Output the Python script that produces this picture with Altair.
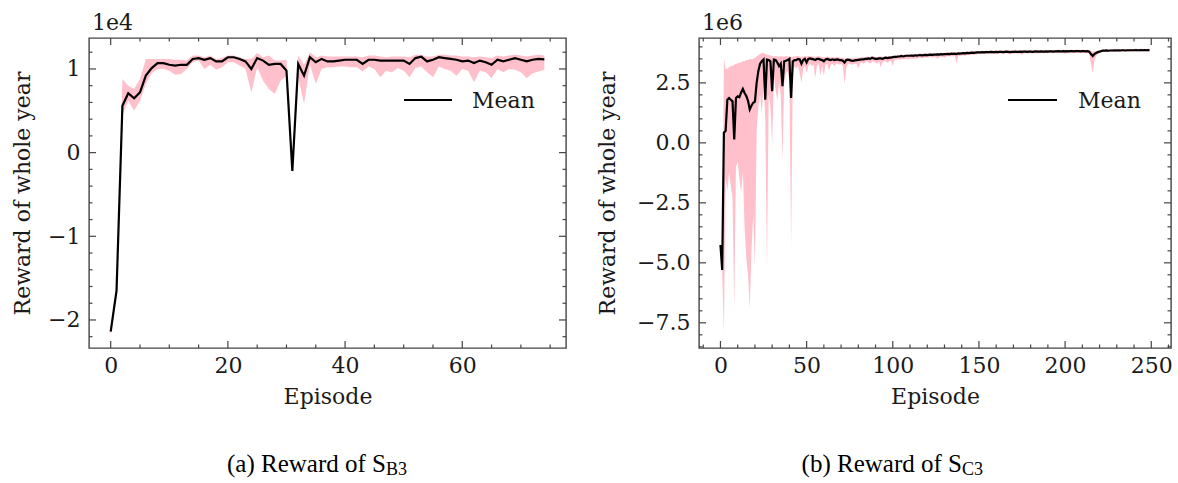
import altair as alt
import pandas as pd

# ---------------- data: panel (a)  S_B3, values in units of 1e4 ----------------
episode_b3 = list(range(75))
mean_b3 = [-2.14, -1.65, 0.56, 0.71, 0.65, 0.72, 0.92, 1.01, 1.07, 1.07,
           1.05, 1.04, 1.05, 1.05, 1.12, 1.13, 1.11, 1.13, 1.09, 1.09,
           1.14, 1.14, 1.12, 1.09, 1.00, 1.13, 1.10, 1.05, 1.06, 1.06,
           0.98, -0.22, 1.06, 0.92, 1.14, 1.08, 1.12, 1.09, 1.09, 1.10,
           1.11, 1.11, 1.11, 1.06, 1.11, 1.11, 1.10, 1.10, 1.10, 1.10,
           1.10, 1.06, 1.13, 1.146, 1.09, 1.11, 1.14, 1.13, 1.12, 1.11,
           1.09, 1.10, 1.07, 1.10, 1.08, 1.05, 1.11, 1.09, 1.11, 1.13,
           1.11, 1.09, 1.11, 1.12, 1.115]
upper_b3 = [-2.08, -1.58, 0.88, 0.80, 0.76, 0.88, 1.12, 1.12, 1.12, 1.12,
            1.12, 1.11, 1.11, 1.10, 1.16, 1.16, 1.14, 1.16, 1.12, 1.13,
            1.16, 1.16, 1.14, 1.12, 1.12, 1.19, 1.14, 1.16, 1.10, 1.10,
            1.11, -0.15, 1.16, 1.05, 1.20, 1.14, 1.16, 1.15, 1.15, 1.15,
            1.15, 1.15, 1.15, 1.14, 1.16, 1.16, 1.15, 1.14, 1.15, 1.15,
            1.15, 1.14, 1.17, 1.17, 1.15, 1.15, 1.17, 1.17, 1.16, 1.16,
            1.15, 1.15, 1.14, 1.15, 1.14, 1.13, 1.16, 1.15, 1.16, 1.17,
            1.16, 1.15, 1.16, 1.17, 1.16]
lower_b3 = [-2.20, -1.72, 0.45, 0.62, 0.50, 0.62, 0.82, 0.95, 1.00, 1.00,
            0.98, 0.93, 0.94, 1.00, 1.08, 1.10, 1.00, 1.05, 0.99, 1.02,
            1.08, 1.08, 1.04, 1.00, 0.72, 1.02, 0.86, 0.76, 0.70, 0.86,
            0.92, -0.25, 0.90, 0.58, 1.05, 0.82, 1.00, 1.02, 1.02, 1.03,
            1.03, 1.02, 1.02, 0.97, 1.03, 1.00, 0.90, 0.98, 0.96, 1.01,
            0.98, 0.90, 1.01, 1.03, 0.96, 0.90, 1.03, 1.00, 0.98, 0.92,
            1.00, 0.98, 0.84, 0.98, 0.96, 0.89, 1.00, 0.96, 1.00, 0.99,
            0.96, 0.89, 0.95, 0.97, 0.99]

# ---------------- data: panel (b)  S_C3, values in units of 1e6 ----------------
episode_c3 = list(range(250))
mean_c3 = [
    -4.25, -5.3, 0.42, 0.5, 1.8, 1.87, 1.8, 1.73, 0.14, 1.87,
    1.94, 1.9, 2.1, 2.25, 2.08, 1.95, 1.75, 1.39, 1.55, 1.67,
    1.72, 2.5, 3.0, 3.3, 3.4, 3.47, 1.8, 3.47, 3.45, 3.4,
    2.15, 3.47, 3.45, 3.35, 3.2, 3.3, 2.36, 3.4, 3.42, 3.45,
    3.5, 1.87,
    3.4, 3.45, 3.45, 3.5, 3.48, 3.3, 3.45, 3.5,
    3.35, 3.5, 3.52, 3.5, 3.48, 3.45, 3.5, 3.5, 3.47, 3.45,
    3.4, 3.48, 3.5, 3.47, 3.45, 3.48, 3.45, 3.47, 3.48, 3.45,
    3.45, 3.42, 3.35, 3.45, 3.47, 3.45, 3.43, 3.42, 3.44, 3.45,
    3.46, 3.47, 3.48, 3.48, 3.5, 3.5, 3.52, 3.5, 3.55, 3.52,
    3.5, 3.5, 3.52, 3.52, 3.5, 3.53, 3.55, 3.53, 3.55, 3.55,
    3.57, 3.58, 3.58, 3.6, 3.6, 3.62, 3.6, 3.62, 3.63, 3.63,
    3.63, 3.64, 3.63, 3.65, 3.64, 3.65, 3.66, 3.65, 3.66, 3.67,
    3.66, 3.67, 3.68, 3.67, 3.68, 3.68, 3.69, 3.68, 3.7, 3.69,
    3.7, 3.7, 3.71, 3.7, 3.72, 3.71, 3.72, 3.7, 3.73, 3.72,
    3.73, 3.74, 3.73, 3.75, 3.74, 3.75, 3.76, 3.75, 3.76, 3.77,
    3.77, 3.77, 3.78, 3.77, 3.78, 3.78, 3.78, 3.79, 3.78, 3.78,
    3.79, 3.78, 3.79, 3.79, 3.78, 3.79, 3.8, 3.79, 3.78, 3.79,
    3.79, 3.8, 3.79, 3.79, 3.8, 3.79, 3.8, 3.8, 3.79, 3.8,
    3.8, 3.79, 3.8, 3.81, 3.8, 3.8, 3.81, 3.8, 3.8, 3.81,
    3.8, 3.81, 3.81, 3.8, 3.81, 3.81, 3.82, 3.81, 3.81, 3.82,
    3.81, 3.82, 3.81, 3.82, 3.82, 3.81, 3.82, 3.82, 3.82, 3.81,
    3.82, 3.82, 3.81, 3.82, 3.8, 3.7, 3.62, 3.7, 3.75, 3.78,
    3.8, 3.83, 3.84, 3.84, 3.85, 3.84, 3.85, 3.85, 3.85, 3.86,
    3.85, 3.86, 3.85, 3.86, 3.86, 3.85, 3.86, 3.86, 3.86, 3.86,
    3.86, 3.87, 3.86, 3.86, 3.87, 3.86, 3.87, 3.86, 3.87, 3.86]
upper_c3 = [
    -4.1, -5.2, 3.55, 3.05, 3.1, 3.15, 3.2, 3.2, 3.25, 3.3,
    3.3, 3.35, 3.35, 3.4, 3.4, 3.45, 3.45, 3.5, 3.5, 3.5,
    3.55, 3.6, 3.65, 3.7, 3.75, 3.75, 3.7, 3.68, 3.65, 3.65,
    3.62, 3.6, 3.62, 3.6, 3.6, 3.62, 3.6, 3.6, 3.62, 3.6,
    3.6, 3.58,
    3.6, 3.6, 3.62, 3.62, 3.6, 3.58, 3.6, 3.62,
    3.6, 3.62, 3.62, 3.6, 3.6, 3.58, 3.6, 3.62, 3.6, 3.58,
    3.56, 3.58, 3.6, 3.58, 3.56, 3.58, 3.56, 3.57, 3.58, 3.56,
    3.55, 3.55, 3.52, 3.53, 3.55, 3.54, 3.53, 3.52, 3.54, 3.55,
    3.55, 3.56, 3.57, 3.57, 3.58, 3.58, 3.6, 3.58, 3.62, 3.6,
    3.58, 3.58, 3.6, 3.6, 3.58, 3.6, 3.62, 3.6, 3.62, 3.62,
    3.63, 3.64, 3.64, 3.66, 3.66, 3.68, 3.66, 3.68, 3.69, 3.69,
    3.69, 3.7, 3.69, 3.71, 3.7, 3.71, 3.72, 3.71, 3.72, 3.73,
    3.72, 3.73, 3.74, 3.73, 3.74, 3.74, 3.75, 3.74, 3.76, 3.75,
    3.76, 3.76, 3.77, 3.76, 3.78, 3.77, 3.78, 3.76, 3.79, 3.78,
    3.79, 3.8, 3.79, 3.81, 3.8, 3.81, 3.82, 3.81, 3.82, 3.83,
    3.83, 3.83, 3.84, 3.83, 3.84, 3.84, 3.84, 3.85, 3.84, 3.84,
    3.85, 3.84, 3.85, 3.85, 3.84, 3.85, 3.86, 3.85, 3.84, 3.85,
    3.85, 3.86, 3.85, 3.85, 3.86, 3.85, 3.86, 3.86, 3.85, 3.86,
    3.86, 3.85, 3.86, 3.87, 3.86, 3.86, 3.87, 3.86, 3.86, 3.87,
    3.86, 3.87, 3.87, 3.86, 3.87, 3.87, 3.88, 3.87, 3.87, 3.88,
    3.87, 3.88, 3.87, 3.88, 3.88, 3.87, 3.88, 3.88, 3.88, 3.87,
    3.88, 3.88, 3.87, 3.88, 3.87, 3.84, 3.8, 3.82, 3.83, 3.84,
    3.86, 3.88, 3.89, 3.89, 3.9, 3.89, 3.9, 3.9, 3.9, 3.91,
    3.9, 3.91, 3.9, 3.91, 3.91, 3.9, 3.91, 3.91, 3.91, 3.91,
    3.91, 3.92, 3.91, 3.91, 3.92, 3.91, 3.92, 3.91, 3.92, 3.91]
lower_c3 = [
    -4.4, -5.4, -7.9, -1.5, -2.0, -1.2, -1.8, -2.3, -6.9, -1.0,
    -0.8, -1.5, -2.1, -1.2, -3.5, -4.8, -5.5, -6.9, -4.5, -3.0,
    -5.2, 0.5, 1.5, 2.0, 1.2, 2.5, 1.0, -5.2, 2.0, 1.5,
    -0.1, 2.8, 2.2, 1.8, 2.5, 2.0, -0.7, 2.5, 2.9, 3.0,
    2.6, -4.4,
    3.0, 3.2, 3.1, 3.2, 2.9, 2.5, 3.1, 3.2,
    2.9, 3.2, 3.3, 3.2, 3.25, 2.7, 3.2, 3.3, 2.8, 3.2,
    2.8, 3.25, 3.3, 3.0, 3.25, 3.3, 3.2, 3.3, 3.3, 3.25,
    3.3, 3.2, 2.45, 3.1, 3.3, 3.3, 3.25, 3.28, 3.3, 3.3,
    3.1, 3.32, 3.35, 3.3, 3.35, 3.38, 3.35, 3.3, 3.4, 3.38,
    3.35, 3.3, 3.38, 3.15, 3.35, 3.4, 3.38, 3.35, 3.4, 3.42,
    3.2, 3.45, 3.45, 3.48, 3.45, 3.5, 3.48, 3.5, 3.5, 3.48,
    3.5, 3.52, 3.5, 3.52, 3.5, 3.55, 3.55, 3.52, 3.55, 3.56,
    3.55, 3.56, 3.58, 3.55, 3.58, 3.57, 3.5, 3.58, 3.6, 3.58,
    3.55, 3.6, 3.62, 3.6, 3.62, 3.6, 3.62, 3.3, 3.63, 3.62,
    3.64, 3.65, 3.62, 3.66, 3.65, 3.66, 3.68, 3.66, 3.68, 3.69,
    3.7, 3.69, 3.71, 3.7, 3.71, 3.7, 3.71, 3.72, 3.7, 3.71,
    3.72, 3.7, 3.72, 3.71, 3.7, 3.72, 3.73, 3.71, 3.68, 3.72,
    3.71, 3.73, 3.72, 3.72, 3.73, 3.65, 3.73, 3.73, 3.72, 3.73,
    3.73, 3.72, 3.73, 3.74, 3.73, 3.73, 3.74, 3.73, 3.73, 3.74,
    3.73, 3.74, 3.74, 3.73, 3.74, 3.74, 3.75, 3.74, 3.74, 3.75,
    3.7, 3.75, 3.74, 3.75, 3.75, 3.74, 3.75, 3.75, 3.75, 3.74,
    3.75, 3.75, 3.74, 3.75, 3.72, 3.3, 2.9, 3.4, 3.6, 3.7,
    3.74, 3.78, 3.79, 3.79, 3.8, 3.79, 3.8, 3.8, 3.8, 3.81,
    3.8, 3.81, 3.8, 3.81, 3.81, 3.8, 3.81, 3.81, 3.81, 3.81,
    3.81, 3.82, 3.81, 3.81, 3.82, 3.81, 3.82, 3.81, 3.82, 3.81]

# ---------------- tick values ----------------
xmajor_b3 = [0, 20, 40, 60]
xminor_b3 = [5, 10, 15, 25, 30, 35, 45, 50, 55, 65, 70, 75]
ymajor_b3 = [-2, -1, 0, 1]
yminor_b3 = [-2.2, -1.8, -1.6, -1.4, -1.2, -0.8, -0.6, -0.4, -0.2,
             0.2, 0.4, 0.6, 0.8, 1.2]
xmajor_c3 = [0, 50, 100, 150, 200, 250]
xminor_c3 = [-10, 10, 20, 30, 40, 60, 70, 80, 90, 110, 120, 130, 140,
             160, 170, 180, 190, 210, 220, 230, 240, 260]
ymajor_c3 = [-7.5, -5.0, -2.5, 0.0, 2.5]
yminor_c3 = [-8.5, -8.0, -7.0, -6.5, -6.0, -5.5, -4.5, -4.0, -3.5, -3.0,
             -2.0, -1.5, -1.0, -0.5, 0.5, 1.0, 1.5, 2.0, 3.0, 3.5, 4.0]

FONT = "DejaVu Serif"
CAPFONT = "Liberation Serif"
FS = 22
FRAME = "#444444"
TXT = "#1a1a1a"
PINK = "#ffc0cb"
LW = 2.2


def panel(ep, mean, low, up, xdom, ydom, xmaj, xmin, ymaj, ymin, yfmt,
          W, H, exp_text, cap_main, cap_sub, cap_x, leg_x0, leg_x1, leg_tx,
          ytitle_pad):
    df = pd.DataFrame({"ep": ep, "mean": mean, "low": low, "up": up})
    xs = alt.Scale(domain=xdom, nice=False, zero=False)
    ys = alt.Scale(domain=ydom, nice=False, zero=False)
    common = dict(ticks=False, domain=False, grid=False,
                  labelFont=FONT, titleFont=FONT, labelFontSize=FS,
                  titleFontSize=FS, labelColor=TXT, titleColor=TXT,
                  titleFontWeight="normal")
    xax = alt.Axis(values=xmaj, title="Episode", format="d",
                   labelPadding=7, titlePadding=10, **common)
    yax = alt.Axis(values=ymaj, title="Reward of whole year", format=yfmt,
                   labelPadding=9, titlePadding=ytitle_pad, **common)
    X = lambda f: alt.X(f, type="quantitative", scale=xs, axis=xax)
    Y = lambda f: alt.Y(f, type="quantitative", scale=ys, axis=yax)

    band = alt.Chart(df).mark_area(color=PINK, opacity=1).encode(
        x=X("ep"), y=Y("low"), y2="up")
    line = alt.Chart(df).mark_line(color="black", strokeWidth=LW).encode(
        x=X("ep"), y=Y("mean"))

    def xt(vals, L):
        d = pd.DataFrame({"t": vals})
        bot = alt.Chart(d).mark_rule(color=FRAME, strokeWidth=1.2).encode(
            x=X("t"), y=alt.value(H), y2=alt.value(H - L))
        top = alt.Chart(d).mark_rule(color=FRAME, strokeWidth=1.2).encode(
            x=X("t"), y=alt.value(0), y2=alt.value(L))
        return [bot, top]

    def yt(vals, L):
        d = pd.DataFrame({"t": vals})
        lft = alt.Chart(d).mark_rule(color=FRAME, strokeWidth=1.2).encode(
            y=Y("t"), x=alt.value(0), x2=alt.value(L))
        rgt = alt.Chart(d).mark_rule(color=FRAME, strokeWidth=1.2).encode(
            y=Y("t"), x=alt.value(W), x2=alt.value(W - L))
        return [lft, rgt]

    one = pd.DataFrame({"a": [0]})
    leg_line = alt.Chart(one).mark_rule(color="black", strokeWidth=LW).encode(
        x=alt.value(leg_x0), x2=alt.value(leg_x1), y=alt.value(62))
    leg_text = alt.Chart(one).mark_text(
        align="left", baseline="middle", font=FONT, fontSize=FS,
        color=TXT).encode(x=alt.value(leg_tx), y=alt.value(63),
                          text=alt.value("Mean"))
    expo = alt.Chart(one).mark_text(
        align="left", baseline="alphabetic", font=FONT, fontSize=FS,
        color=TXT).encode(x=alt.value(3), y=alt.value(-8),
                          text=alt.value(exp_text))
    cap1 = alt.Chart(one).mark_text(
        align="right", baseline="alphabetic", font=CAPFONT, fontSize=25,
        color="black").encode(x=alt.value(cap_x), y=alt.value(434),
                              text=alt.value(cap_main))
    cap2 = alt.Chart(one).mark_text(
        align="left", baseline="alphabetic", font=CAPFONT, fontSize=18,
        color="black").encode(x=alt.value(cap_x), y=alt.value(437),
                              text=alt.value(cap_sub))

    layers = [band, line] + xt(xmaj, 7) + xt(xmin, 3.5) + yt(ymaj, 7) + \
        yt(ymin, 3.5) + [leg_line, leg_text, expo, cap1, cap2]
    return alt.layer(*layers).properties(width=W, height=H)


left = panel(episode_b3, mean_b3, lower_b3, upper_b3, [-3.7, 77.7],
             [-2.335, 1.37], xmajor_b3, xminor_b3, ymajor_b3, yminor_b3, "d",
             477, 310, "1e4", "(a) Reward of S", "B3", 297, 315, 363, 383, 13)
right = panel(episode_c3, mean_c3, lower_c3, upper_c3, [-12.45, 261.45],
              [-8.55, 4.37], xmajor_c3, xminor_c3, ymajor_c3, yminor_c3, ".1f",
              472, 310, "1e6", "(b) Reward of S", "C3", 263, 309, 358, 379, 17)

chart = alt.hconcat(left, right, spacing=27).properties(
    padding={"left": 10, "top": 11, "right": 5, "bottom": 5},
    background="white"
).configure_view(stroke=FRAME, strokeWidth=1.4)

chart.save("out.html", embed_options={"renderer": "svg", "actions": False})
